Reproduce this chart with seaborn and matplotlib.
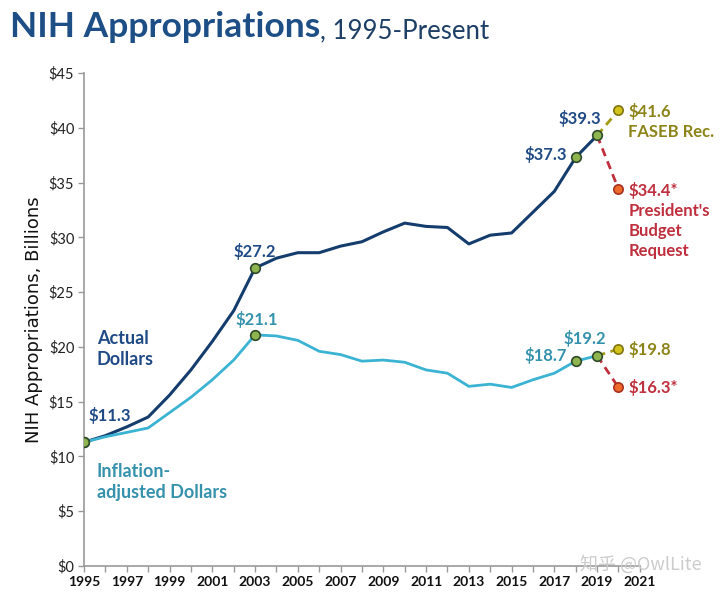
import numpy as np
import pandas as pd
import seaborn as sns
from matplotlib import pyplot as plt

# NIH appropriations, billions of dollars
years = list(range(1995, 2020))
actual = [11.3, 11.9, 12.7, 13.6, 15.6, 17.9, 20.5, 23.3, 27.2, 28.1, 28.6, 28.6,
          29.2, 29.6, 30.5, 31.3, 31.0, 30.9, 29.4, 30.2, 30.4, 32.3, 34.2, 37.3, 39.3]
adjusted = [11.3, 11.8, 12.2, 12.6, 14.0, 15.4, 17.0, 18.8, 21.1, 21.0, 20.6, 19.6,
            19.3, 18.7, 18.8, 18.6, 17.9, 17.6, 16.4, 16.6, 16.3, 17.0, 17.6, 18.7, 19.2]

proj_year = 2020
faseb = [41.6, 19.8]       # actual, adjusted
president = [34.4, 16.3]   # actual, adjusted

highlight_years = [1995, 2003, 2018, 2019]

NAVY = "#143d6e"
LIGHT = "#3bb3d3"
NAVY_TXT = "#1f4a85"
TEAL_TXT = "#3592ad"
OLIVE = "#8c8418"
RED = "#bf2f3e"

df = pd.DataFrame({"year": years, "Actual": actual, "Adjusted": adjusted})

sns.set_theme(style="white")
plt.rcParams["font.family"] = ["Lato", "DejaVu Sans"]

fig = plt.figure(figsize=(7.2, 6.07), dpi=100)
ax = fig.add_axes([0.1167, 0.0675, 0.772, 0.8122])

sns.lineplot(data=df, x="year", y="Actual", color=NAVY, lw=2.2, ax=ax)
sns.lineplot(data=df, x="year", y="Adjusted", color=LIGHT, lw=2.0, ax=ax)

# dashed projections to FY2020
for i, series in enumerate([actual, adjusted]):
    last = series[-1]
    ax.plot([2019, proj_year], [last, faseb[i]], ls=(0, (3, 2)), color="#a39a14", lw=2, zorder=2)
    ax.plot([2019, proj_year], [last, president[i]], ls=(0, (3, 2)), color=RED, lw=2, zorder=2)
    ax.scatter([proj_year], [faseb[i]], s=45, color="#d4c21c", edgecolor="#7f7410", lw=1.2, zorder=4)
    ax.scatter([proj_year], [president[i]], s=45, color="#ee6a2c", edgecolor="#a8301f", lw=1.2, zorder=4)

# highlighted points
hl = df[df["year"].isin(highlight_years)]
for col in ["Actual", "Adjusted"]:
    ax.scatter(hl["year"], hl[col], s=48, color="#8db44e", edgecolor="#2f4a2a", lw=1.2, zorder=4)

ax.set_xlim(1995, 2021)
ax.set_ylim(0, 45)
ax.set_xticks(range(1995, 2022))
ax.set_xticklabels([str(y) if y % 2 == 1 else "" for y in range(1995, 2022)],
                   fontsize=10, fontweight="bold", color="#111111")
ax.set_yticks(range(0, 46, 5))
ax.set_yticklabels([f"${v}" for v in range(0, 46, 5)], fontsize=10.5, color="#222222")
ax.tick_params(axis="both", length=4, width=1, color="#999999", direction="out", pad=3)
ax.tick_params(bottom=True, left=True)
for s in ["top", "right"]:
    ax.spines[s].set_visible(False)
for s in ["left", "bottom"]:
    ax.spines[s].set_color("#999999")
    ax.spines[s].set_linewidth(1.2)
ax.set_xlabel("")
ax.set_ylabel("NIH Appropriations, Billions", fontsize=13, color="#111111", labelpad=4,
              family=["DejaVu Sans"])

lab = dict(fontsize=12, fontweight="bold", textcoords="offset points", annotation_clip=False)
ax.annotate("$11.3", (1995, actual[0]), xytext=(3, 13), color=NAVY_TXT, ha="left", va="bottom", **lab)
ax.annotate("$27.2", (2003, actual[8]), xytext=(0, 6), color=NAVY_TXT, ha="center", va="bottom", **lab)
ax.annotate("$21.1", (2003, adjusted[8]), xytext=(1, 5), color=TEAL_TXT, ha="center", va="bottom", **lab)
ax.annotate("$37.3", (2018, actual[-2]), xytext=(-6, 2), color=NAVY_TXT, ha="right", va="center", **lab)
ax.annotate("$39.3", (2019, actual[-1]), xytext=(3, 6), color=NAVY_TXT, ha="right", va="bottom", **lab)
ax.annotate("$18.7", (2018, adjusted[-2]), xytext=(-6, 4), color=TEAL_TXT, ha="right", va="center", **lab)
ax.annotate("$19.2", (2019, adjusted[-1]), xytext=(-9, 6), color=TEAL_TXT, ha="center", va="bottom", **lab)

ax.annotate("$41.6\nFASEB Rec.", (proj_year, faseb[0]), xytext=(7, 5), color=OLIVE,
            ha="left", va="top", linespacing=1.3, **lab)
ax.annotate("$34.4*\nPresident's\nBudget\nRequest", (proj_year, president[0]), xytext=(7, 5),
            color=RED, ha="left", va="top", linespacing=1.3, **lab)
ax.annotate("$19.8", (proj_year, faseb[1]), xytext=(7, 0), color=OLIVE, ha="left", va="center", **lab)
ax.annotate("$16.3*", (proj_year, president[1]), xytext=(7, 0), color=RED, ha="left", va="center", **lab)

ax.text(1995.6, 18.1, "Actual\nDollars", color=NAVY_TXT, fontsize=13, fontweight="bold",
        ha="left", va="bottom", linespacing=1.3)
ax.text(1995.6, 5.9, "Inflation-\nadjusted Dollars", color=TEAL_TXT, fontsize=13, fontweight="bold",
        ha="left", va="bottom", linespacing=1.3)

# title: bold part then regular part
t1 = fig.text(0.014, 0.955, "NIH Appropriations", fontsize=25.5, fontweight="bold",
              color="#1d4f86", ha="left", va="center")
fig.canvas.draw()
bb = t1.get_window_extent()
fig.text(bb.x1 / fig.bbox.width, 0.949, ", 1995-Present", fontsize=18.5, color="#1d3f66",
         ha="left", va="center")

fig.text(0.975, 0.07, "知乎 @OwlLite", fontsize=13, color="#cccccc", ha="right", va="center",
         family=["Noto Sans CJK SC", "DejaVu Sans"])

fig.savefig("out.png", dpi=100)
